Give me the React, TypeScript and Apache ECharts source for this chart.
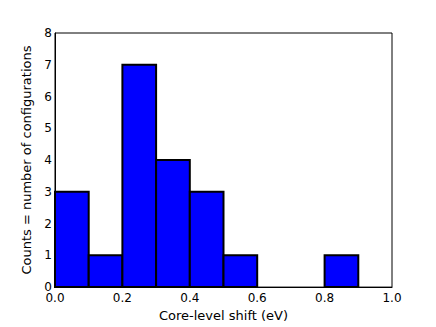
import React, { useEffect, useRef } from "react";
import * as echarts from "echarts";

const binStarts = [0.0, 0.1, 0.2, 0.3, 0.4, 0.5, 0.6, 0.7, 0.8, 0.9];
const binWidth = 0.1;
const counts = [3, 1, 7, 4, 3, 1, 0, 0, 1, 0];
const xTicks = [0.0, 0.2, 0.4, 0.6, 0.8, 1.0];
const yTicks = [0, 1, 2, 3, 4, 5, 6, 7, 8];

export default function App() {
  const ref = useRef<HTMLDivElement>(null);
  useEffect(() => {
    if (!ref.current) return;
    const chart = echarts.init(ref.current, undefined, { renderer: "svg" });
    const font = "DejaVu Sans";
    const data = binStarts
      .map((s, i) => [s, s + binWidth, counts[i]])
      .filter((d) => d[2] > 0);
    chart.setOption({
      animation: false,
      backgroundColor: "#ffffff",
      grid: {
        left: 55,
        top: 33,
        right: 44,
        bottom: 34,
        show: true,
        borderColor: "#000000",
        borderWidth: 1,
        backgroundColor: "transparent",
      },
      xAxis: {
        type: "value",
        min: xTicks[0],
        max: xTicks[xTicks.length - 1],
        interval: 0.2,
        name: "Core-level shift (eV)",
        nameLocation: "middle",
        nameGap: 18,
        nameTextStyle: { fontFamily: font, fontSize: 13, color: "#000" },
        axisLine: { show: true, lineStyle: { color: "#000", width: 1 } },
        axisTick: { show: false },
        splitLine: { show: false },
        axisLabel: {
          margin: 5,
          fontFamily: font,
          fontSize: 12,
          color: "#000",
          formatter: (v: number) => v.toFixed(1),
        },
      },
      yAxis: {
        type: "value",
        min: yTicks[0],
        max: yTicks[yTicks.length - 1],
        interval: 1,
        name: "Counts = number of configurations",
        nameLocation: "middle",
        nameGap: 9,
        nameTextStyle: { fontFamily: font, fontSize: 13, color: "#000" },
        axisLine: { show: true, lineStyle: { color: "#000", width: 1 } },
        axisTick: { show: false },
        splitLine: { show: false },
        axisLabel: { margin: 3, fontFamily: font, fontSize: 12, color: "#000" },
      },
      series: [
        {
          type: "custom",
          data,
          encode: { x: [0, 1], y: 2 },
          renderItem: (params: any, api: any) => {
            const p0 = api.coord([api.value(0), api.value(2)]);
            const p1 = api.coord([api.value(1), 0]);
            return {
              type: "rect",
              shape: { x: p0[0], y: p0[1], width: p1[0] - p0[0], height: p1[1] - p0[1] },
              style: { fill: "#0000ff", stroke: "#000000", lineWidth: 2 },
            };
          },
        },
      ],
    });
    return () => chart.dispose();
  }, []);
  return <div ref={ref} style={{ width: 436, height: 327, position: "absolute", left: 0, top: 0 }} />;
}
